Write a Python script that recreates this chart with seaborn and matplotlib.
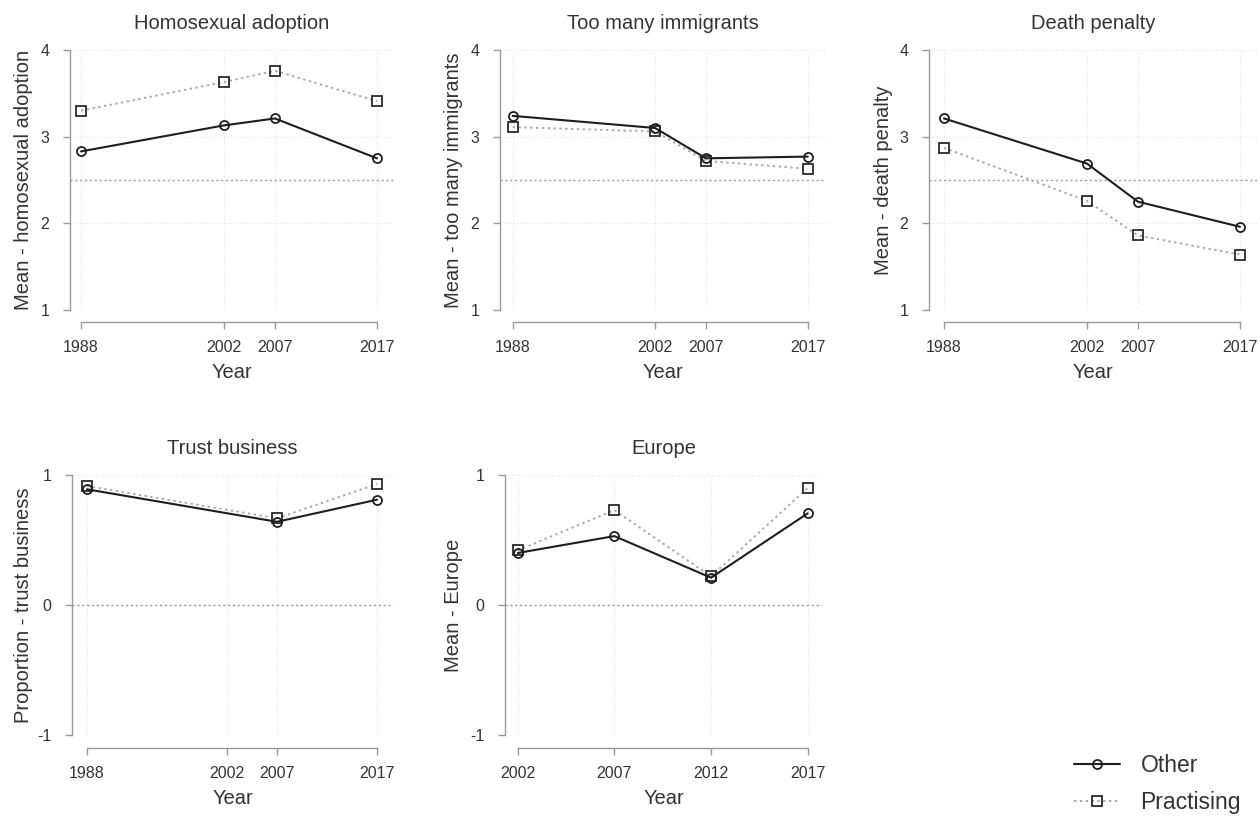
import matplotlib
matplotlib.use("Agg")
import matplotlib.pyplot as plt
from matplotlib.lines import Line2D
import seaborn as sns
import pandas as pd

# ---- data ----
years_main = [1988, 2002, 2007, 2017]
homo_other = [2.83, 3.13, 3.21, 2.75]
homo_prac = [3.30, 3.63, 3.76, 3.41]
immig_other = [3.24, 3.10, 2.75, 2.77]
immig_prac = [3.11, 3.06, 2.72, 2.63]
death_other = [3.21, 2.69, 2.25, 1.96]
death_prac = [2.87, 2.26, 1.86, 1.64]
trust_years = [1988, 2007, 2017]
trust_other = [0.89, 0.64, 0.81]
trust_prac = [0.915, 0.667, 0.93]
europe_years = [2002, 2007, 2012, 2017]
europe_other = [0.40, 0.53, 0.21, 0.705]
europe_prac = [0.42, 0.73, 0.22, 0.90]

titles = ["Homosexual adoption", "Too many immigrants", "Death penalty",
          "Trust business", "Europe"]
ylabels = ["Mean - homosexual adoption", "Mean - too many immigrants",
           "Mean - death penalty", "Proportion - trust business", "Mean - Europe"]
group_names = ["Other", "Practising"]

sns.set_style("white")
plt.rcParams["font.family"] = ["Liberation Sans", "DejaVu Sans"]

W, H = 1260, 817
fig = plt.figure(figsize=(W / 100, H / 100), dpi=100)

TXT = "#333333"
AX = "#9a9a9a"

panels = [
    dict(x=years_main, o=homo_other, p=homo_prac, xt=years_main, yt=[1, 2, 3, 4], ref=2.5,
         left=70, t0=81, t1=377, right=393, top=50, bot=310, xaxis=322, ylab=33),
    dict(x=years_main, o=immig_other, p=immig_prac, xt=years_main, yt=[1, 2, 3, 4], ref=2.5,
         left=500, t0=512.7, t1=807.7, right=825, top=50, bot=310, xaxis=322, ylab=463),
    dict(x=years_main, o=death_other, p=death_prac, xt=years_main, yt=[1, 2, 3, 4], ref=2.5,
         left=929, t0=944, t1=1240, right=1257, top=50, bot=310, xaxis=322, ylab=893),
    dict(x=trust_years, o=trust_other, p=trust_prac, xt=years_main, yt=[-1, 0, 1], ref=0,
         left=72, t0=87, t1=377, right=393, top=475, bot=735, xaxis=748, ylab=33),
    dict(x=europe_years, o=europe_other, p=europe_prac, xt=europe_years, yt=[-1, 0, 1], ref=0,
         left=505, t0=517.7, t1=807.7, right=822, top=475, bot=735, xaxis=748, ylab=463),
]

for i, P in enumerate(panels):
    ax = fig.add_axes([P["left"] / W, 1 - P["bot"] / H,
                       (P["right"] - P["left"]) / W, (P["bot"] - P["top"]) / H])
    xt = P["xt"]
    ppy = (P["t1"] - P["t0"]) / (xt[-1] - xt[0])
    ax.set_xlim(xt[0] - (P["t0"] - P["left"]) / ppy, xt[-1] + (P["right"] - P["t1"]) / ppy)
    ax.set_ylim(P["yt"][0], P["yt"][-1])

    # grid
    for yv in P["yt"]:
        ax.axhline(yv, color="#e4e4e4", lw=0.8, ls=(0, (1, 2)), zorder=0)
    for xv in xt:
        ax.axvline(xv, color="#e4e4e4", lw=0.8, ls=(0, (1, 2)), zorder=0)
    ax.axhline(P["ref"], color="#9a9a9a", lw=1.0, ls=(0, (1.5, 2)), zorder=1)

    df_o = pd.DataFrame({"Year": P["x"], "v": P["o"]})
    df_p = pd.DataFrame({"Year": P["x"], "v": P["p"]})
    sns.lineplot(data=df_p, x="Year", y="v", ax=ax, color="#a8a8a8", lw=1.4,
                 linestyle=(0, (1.2, 1.8)), marker="s", markersize=6.5,
                 markerfacecolor="none", markeredgecolor="#2a2a2a", markeredgewidth=1.3,
                 zorder=3, clip_on=False)
    sns.lineplot(data=df_o, x="Year", y="v", ax=ax, color="#1e1e1e", lw=1.5,
                 marker="o", markersize=6.5, markerfacecolor="none",
                 markeredgecolor="#1e1e1e", markeredgewidth=1.3, zorder=4, clip_on=False)

    for s in ["top", "right"]:
        ax.spines[s].set_visible(False)
    ax.spines["left"].set_color(AX)
    ax.spines["bottom"].set_color(AX)
    ax.spines["left"].set_linewidth(1.0)
    ax.spines["bottom"].set_linewidth(1.0)
    ax.spines["bottom"].set_position(("outward", (P["xaxis"] - P["bot"]) * 0.72))
    ax.spines["left"].set_bounds(P["yt"][0], P["yt"][-1])
    ax.spines["bottom"].set_bounds(xt[0], xt[-1])

    ax.set_xticks(xt)
    ax.set_xticklabels([str(v) for v in xt])
    ax.set_yticks(P["yt"])
    ax.set_yticklabels([str(v) for v in P["yt"]])
    ax.tick_params(axis="both", which="major", direction="out", length=5, width=1.0,
                   color=AX, labelsize=11.5, labelcolor=TXT, left=True, bottom=True)
    ax.tick_params(axis="y", pad=10)
    ax.tick_params(axis="x", pad=8)

    ax.set_xlabel("Year", fontsize=14.5, color=TXT, labelpad=6)
    ax.set_ylabel(ylabels[i], fontsize=14.5, color=TXT)
    ax.yaxis.set_label_coords((P["ylab"] - P["left"]) / (P["right"] - P["left"]), 0.5)
    ax.set_title(titles[i], fontsize=14.5, color=TXT, pad=15)

handles = [
    Line2D([], [], color="#1e1e1e", lw=1.5, marker="o", markersize=6.5,
           markerfacecolor="none", markeredgecolor="#1e1e1e", markeredgewidth=1.3),
    Line2D([], [], color="#a8a8a8", lw=1.4, ls=(0, (1.2, 1.8)), marker="s", markersize=6.5,
           markerfacecolor="none", markeredgecolor="#2a2a2a", markeredgewidth=1.3),
]
leg = fig.legend(handles, group_names, loc="center left",
                 bbox_to_anchor=(1074 / W, 1 - 784 / H), frameon=False,
                 fontsize=16.5, handlelength=2.0, handletextpad=0.9,
                 labelspacing=0.65, borderpad=0, borderaxespad=0)
for t in leg.get_texts():
    t.set_color(TXT)

fig.savefig("out.png", dpi=100, facecolor="white")
